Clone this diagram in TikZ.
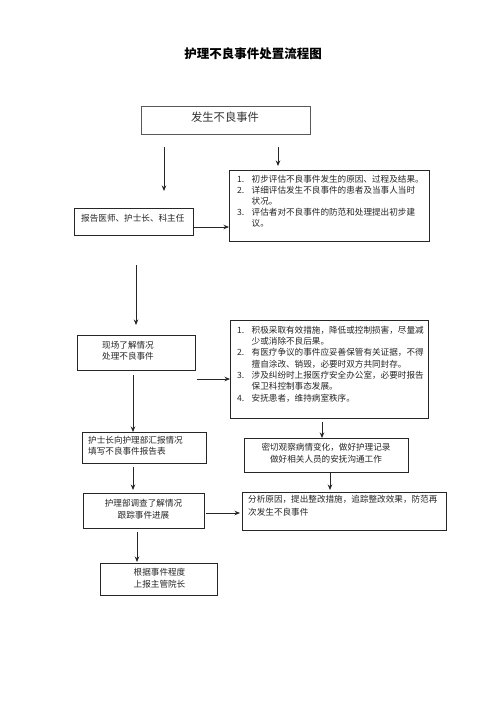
\documentclass[tikz,border=0pt]{standalone}
\usepackage{fontspec}
\setmainfont{Noto Sans CJK SC}
\usetikzlibrary{arrows.meta}
\tikzset{
  box/.style={draw=black!85, line width=0.9pt, rectangle, inner sep=0pt, anchor=north west},
  topbox/.style={draw=black!65, line width=1.3pt, rectangle, inner sep=0pt, anchor=north west},
  txt/.style={inner sep=0pt, font=\fontsize{8.6}{11}\selectfont, text=black!85},
  arr/.style={draw=black!85, line width=0.8pt, -{Stealth[length=5.5pt,width=4.5pt]}},
}
\newcommand{\nm}[1]{\makebox[14.5pt][l]{#1}}
\newcommand{\ind}{\hspace*{14.5pt}}
\begin{document}
\begin{tikzpicture}[x=1pt,y=-1pt]
\useasboundingbox[fill=white] (0,0) rectangle (496,702);

% title
\node[inner sep=0pt, font=\fontsize{12.5}{14}\selectfont\bfseries] (title) at (253,54) {护理不良事件处置流程图};

% box 1
\node[topbox, minimum width=169pt, minimum height=28pt] (b1) at (141,106) {};
\node[inner sep=0pt, font=\fontsize{11.3}{13}\selectfont, text=black!80] (t1) at (225,117.5) {发生不良事件};

% box 2
\node[box, minimum width=119pt, minimum height=27pt] (b2) at (74,208) {};
\node[txt, anchor=west] (t2) at (81,218) {报告医师、护士长、科主任};

% box 3
\node[box, minimum width=200pt, minimum height=71pt] (b3) at (229,170) {};
\node[txt, anchor=west, align=left] (t3) at (237,201) {%
\nm{1.}初步评估不良事件发生的原因、过程及结果。\\
\nm{2.}详细评估发生不良事件的患者及当事人当时\\
\ind 状况。\\
\nm{3.}评估者对不良事件的防范和处理提出初步建\\
\ind 议。};

% box 4
\node[box, minimum width=118pt, minimum height=35pt] (b4) at (77,335) {};
\node[txt, anchor=west, align=left] (t4) at (102,351) {现场了解情况\\处理不良事件};

% box 6
\node[box, minimum width=198pt, minimum height=98pt] (b6) at (230,320) {};
\node[txt, anchor=west, align=left, font=\fontsize{8.6}{11.3}\selectfont] (t6) at (237,364) {%
\nm{1.}积极采取有效措施，降低或控制损害，尽量减\\
\ind 少或消除不良后果。\\
\nm{2.}有医疗争议的事件应妥善保管有关证据，不得\\
\ind 擅自涂改、销毁，必要时双方共同封存。\\
\nm{3.}涉及纠纷时上报医疗安全办公室，必要时报告\\
\ind 保卫科控制事态发展。\\
\nm{4.}安抚患者，维持病室秩序。};

% box 5
\node[box, minimum width=124pt, minimum height=31pt] (b5) at (82,432) {};
\node[txt, anchor=west, align=left] (t5) at (88,446) {护士长向护理部汇报情况\\填写不良事件报告表};

% box 7
\node[box, minimum width=164pt, minimum height=34pt] (b7) at (244,438) {};
\node[txt, align=center, font=\fontsize{8.6}{12}\selectfont] (t7) at (326,453) {密切观察病情变化，做好护理记录\\做好相关人员的安抚沟通工作};

% box 8
\node[box, minimum width=121pt, minimum height=35pt] (b8) at (83,493) {};
\node[txt, align=center, font=\fontsize{8.6}{12}\selectfont] (t8) at (143.5,509) {护理部调查了解情况\\跟踪事件进展};

% box 9
\node[box, minimum width=204pt, minimum height=38pt] (b9) at (242,492) {};
\node[txt, anchor=west, align=left, font=\fontsize{8.6}{13}\selectfont] (t9) at (248,506) {分析原因，提出整改措施，追踪整改效果，防范再\\次发生不良事件};

% box 10
\node[box, minimum width=117pt, minimum height=32pt] (b10) at (100,563) {};
\node[txt, align=center, font=\fontsize{8.6}{12}\selectfont] (t10) at (159.5,578) {根据事件程度\\上报主管院长};

% connector end points
\coordinate (a1s) at (164,147); \coordinate (a1e) at (164,191);
\coordinate (a2s) at (278,147); \coordinate (a2e) at (278,166);
\coordinate (a3s) at (193,227); \coordinate (a3e) at (229,227);
\coordinate (a4s) at (136,265); \coordinate (a4e) at (136,325);
\coordinate (a5s) at (133,375); \coordinate (a5e) at (133,432);
\coordinate (a6s) at (197,379); \coordinate (a6e) at (230,379);
\coordinate (a7s) at (322,422); \coordinate (a7e) at (322,438);
\coordinate (a8s) at (133,467); \coordinate (a8e) at (133,490);
\coordinate (a9s) at (330,473); \coordinate (a9e) at (330,490);
\coordinate (a10s) at (206,513); \coordinate (a10e) at (240,513);
\coordinate (a11s) at (137,532); \coordinate (a11e) at (137,562);

\draw[arr] (a1s) -- (a1e);
\draw[arr] (a2s) -- (a2e);
\draw[arr] (a3s) -- (a3e);
\draw[arr] (a4s) -- (a4e);
\draw[arr] (a5s) -- (a5e);
\draw[arr] (a6s) -- (a6e);
\draw[arr] (a7s) -- (a7e);
\draw[arr] (a8s) -- (a8e);
\draw[arr] (a9s) -- (a9e);
\draw[arr] (a10s) -- (a10e);
\draw[arr] (a11s) -- (a11e);
\end{tikzpicture}
\end{document}
